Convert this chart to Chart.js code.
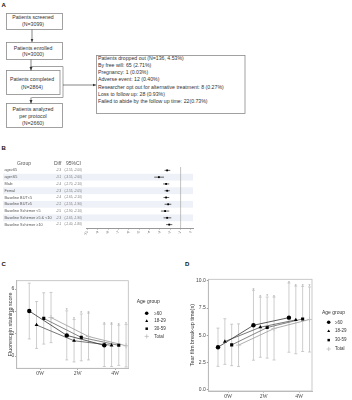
<!DOCTYPE html>
<html>
<head>
<meta charset="utf-8">
<script src="https://cdn.jsdelivr.net/npm/chart.js@4.4.1/dist/chart.umd.min.js"></script>
<style>
  body { margin: 0; background: #fff; }
  #page { position: relative; width: 352px; height: 400px; overflow: hidden; font-family: 'Liberation Sans', Arial, sans-serif; }
  canvas, svg { position: absolute; }
  .lab { position: absolute; font-weight: bold; font-size: 6px; line-height: 6px; color: #111; }
  #flow text { font-size: 5.2px; fill: #333; font-family: 'Liberation Sans', Arial, sans-serif; }
</style>
</head>
<body>
<div id="page">
  <div class="lab" style="left:1.5px;top:2px">A</div>
  <div class="lab" style="left:1.5px;top:145px">B</div>
  <div class="lab" style="left:1.5px;top:261px">C</div>
  <div class="lab" style="left:185px;top:261px">D</div>

  <svg id="flow" width="352" height="135" style="left:0;top:0">
    <defs>
      <marker id="ah" markerWidth="4" markerHeight="4" refX="3.5" refY="2" orient="auto" markerUnits="userSpaceOnUse">
        <path d="M0,0.5 L3.5,2 L0,3.5 z" fill="#333"/>
      </marker>
    </defs>
    <g fill="none" stroke="#8a8a8a" stroke-width="0.8">
      <rect x="6.5" y="13.5" width="56" height="16"/>
      <rect x="6.5" y="42.5" width="56" height="17"/>
      <rect x="6.5" y="70.5" width="53.5" height="24"/>
      <polyline points="30.5,66.5 63,66.5 63,97.5 31.5,97.5"/>
      <rect x="6.5" y="103.5" width="56" height="24"/>
      <rect x="96.5" y="55.5" width="148.5" height="58"/>
    </g>
    <g stroke="#333" stroke-width="0.6">
      <line x1="32" y1="29.5" x2="32" y2="42" marker-end="url(#ah)"/>
      <line x1="31" y1="59.5" x2="31" y2="70.5" marker-end="url(#ah)"/>
      <line x1="31" y1="97.5" x2="31" y2="103.5" marker-end="url(#ah)"/>
      <line x1="63" y1="85" x2="96" y2="85" marker-end="url(#ah)"/>
    </g>
    <g text-anchor="middle">
      <text x="33" y="18.5">Patients screened</text>
      <text x="33" y="26.1">(N=3099)</text>
      <text x="33" y="49.5">Patients enrolled</text>
      <text x="33" y="56.1">(N=3000)</text>
      <text x="32" y="81.1">Patients completed</text>
      <text x="32" y="88.5">(N=2864)</text>
      <text x="33" y="110.8">Patients analyzed</text>
      <text x="33" y="117.8">per protocol</text>
      <text x="33" y="125.1">(N=2660)</text>
    </g>
    <g>
      <text x="98" y="60.1">Patients dropped out (N=136, 4.53%)</text>
      <text x="98" y="67.1">By free will: 65 (2.71%)</text>
      <text x="98" y="74.1">Pregnancy: 1 (0.03%)</text>
      <text x="98" y="81.1">Adverse event: 12 (0.40%)</text>
      <text x="98" y="88.5">Researcher opt out for alternative treatment: 8 (0.27%)</text>
      <text x="98" y="95.8">Loss to follow up: 28 (0.93%)</text>
      <text x="98" y="102.8">Failed to abide by the follow up time: 22(0.73%)</text>
    </g>
  </svg>

  <canvas id="forest" width="200" height="100" style="left:0;top:140px"></canvas>
  <canvas id="fss" width="176" height="128" style="left:0;top:250px"></canvas>
  <canvas id="tbut" width="176" height="150" style="left:176px;top:250px"></canvas>
</div>

<script>
// ---- panel B: subgroup differences
const SUBGROUPS = ['age≥65', 'age<65', 'Male', 'Femal', 'Baseline BUT<5', 'Baseline BUT≥5',
  'Baseline Schirmer <5', 'Baseline Schirmer ≥5 & <10', 'Baseline Schirmer ≥10'];
const DIFF = [-2.3, -3.1, -2.4, -2.3, -2.4, -2.2, -2.5, -2.3, -2.1];
const CI_LOW = [-2.55, -3.55, -2.70, -2.55, -2.65, -2.55, -2.90, -2.65, -2.40];
const CI_HIGH = [-2.00, -2.60, -2.10, -2.05, -2.10, -1.90, -2.10, -1.90, -1.80];
const FOREST_TICKS = [-10, -9, -8, -7, -6, -5, -4, -3, -2, -1, 0];
const REF_LINE = -1;

// ---- panels C and D: by age group over time
const TIME_LABELS = ['0W', '2W', '4W'];
const AGE_GROUPS = ['≥60', '18-29', '30-59', 'Total'];
const STARRED = [false, true, true];

const FSS_60 = [4.03, 1.85, 0.96];
const FSS_18 = [2.78, 1.37, 0.96];
const FSS_30 = [3.37, 1.67, 0.96];
const FSS_TOTAL = [3.45, 1.75, 0.92];
const FSS_SD_60 = [2.5, 2.2, 1.9];
const FSS_SD_18 = [2.1, 1.9, 1.9];
const FSS_SD_30 = [2.3, 2.1, 1.8];
const FSS_SD_TOTAL = [2.25, 2.1, 1.9];
const FSS_TICKS = [0, 2, 4, 6];

const TBUT_60 = [3.91, 5.92, 6.62];
const TBUT_18 = [4.43, 5.74, 6.41];
const TBUT_30 = [4.12, 5.71, 6.50];
const TBUT_TOTAL = [4.10, 5.62, 6.45];
const TBUT_SD_60 = [1.75, 3.2, 3.17];
const TBUT_SD_18 = [2.09, 2.75, 3.1];
const TBUT_SD_30 = [1.9, 2.8, 2.98];
const TBUT_SD_TOTAL = [1.95, 2.88, 2.98];
const TBUT_TICKS = [0, 2.5, 5, 7.5, 10];

Chart.defaults.font.family = "'Liberation Sans', Arial, sans-serif";
Chart.defaults.color = '#444';

const forestTable = {
  id: 'forestTable',
  beforeDatasetsDraw(chart) {
    const {ctx, chartArea: a, scales: {x, y}} = chart;
    ctx.save();
    SUBGROUPS.forEach((g, i) => {
      if (i % 2 === 1) {
        const t = y.getPixelForValue(i - 0.5), b = y.getPixelForValue(i + 0.5);
        ctx.fillStyle = '#eef1f7';
        ctx.fillRect(3, t, a.right - 3, b - t);
      }
    });
    const rx = x.getPixelForValue(REF_LINE);
    ctx.strokeStyle = '#999';
    ctx.lineWidth = 0.6;
    ctx.beginPath();
    ctx.moveTo(rx, a.top);
    ctx.lineTo(rx, a.bottom);
    ctx.stroke();

    ctx.strokeStyle = '#000';
    ctx.lineWidth = 0.6;
    SUBGROUPS.forEach((g, i) => {
      const py = y.getPixelForValue(i);
      ctx.beginPath();
      ctx.moveTo(x.getPixelForValue(CI_LOW[i]), py);
      ctx.lineTo(x.getPixelForValue(CI_HIGH[i]), py);
      ctx.stroke();
    });

    ctx.textBaseline = 'middle';
    ctx.fillStyle = '#555';
    ctx.font = "5px 'Liberation Sans', Arial";
    ctx.textAlign = 'center';
    ctx.fillText('Group', 24, a.top - 3);
    ctx.textAlign = 'left';
    ctx.fillText('Diff', 54, a.top - 3);
    ctx.fillText('95%CI', 66, a.top - 3);
    SUBGROUPS.forEach((g, i) => {
      const py = y.getPixelForValue(i);
      ctx.fillStyle = '#555';
      ctx.font = "3.8px 'Liberation Sans', Arial";
      ctx.fillText(g, 4.5, py);
      ctx.font = "3px 'Liberation Sans', Arial";
      ctx.fillStyle = '#777';
      ctx.fillText(DIFF[i].toFixed(1), 56, py);
      ctx.fillText('(' + CI_LOW[i].toFixed(2) + ', ' + CI_HIGH[i].toFixed(2) + ')', 64.5, py);
    });
    ctx.restore();
  }
};

new Chart(document.getElementById('forest'), {
  type: 'scatter',
  data: {
    datasets: [{
      data: DIFF.map((d, i) => ({x: d, y: i})),
      pointStyle: 'rect',
      pointRadius: 1.3,
      backgroundColor: '#000',
      borderColor: '#000',
      borderWidth: 0
    }]
  },
  options: {
    responsive: false,
    animation: false,
    devicePixelRatio: 1,
    layout: {padding: {left: 86, right: 7, top: 27, bottom: 0}},
    plugins: {legend: {display: false}, tooltip: {enabled: false}},
    scales: {
      x: {
        type: 'linear', min: -10.15, max: 0.2,
        afterBuildTicks: s => { s.ticks = FOREST_TICKS.map(v => ({value: v})); },
        afterFit: s => { s.height = 12; },
        ticks: {font: {size: 3.5}, color: '#666', padding: 0.5},
        grid: {drawOnChartArea: false, tickLength: 1.5, color: '#999'},
        border: {color: '#999'}
      },
      y: {display: false, min: -0.5, max: 8.5, reverse: true}
    }
  },
  plugins: [forestTable]
});

// ---- shared helpers for C and D
const MARKERS = ['circle', 'triangle', 'rect', 'cross'];
const LINE_COLORS = ['#333', '#555', '#666', '#999'];
const DODGE = [-0.29, -0.096, 0.096, 0.29];

const errorBars = {
  id: 'errorBars',
  beforeDatasetsDraw(chart) {
    const {ctx, scales: {x, y}} = chart;
    ctx.save();
    ctx.strokeStyle = '#b8b8b8';
    ctx.lineWidth = 0.7;
    ctx.fillStyle = '#999';
    ctx.font = "5px 'Liberation Sans', Arial";
    ctx.textAlign = 'center';
    chart.data.datasets.forEach(ds => {
      ds.data.forEach((p, t) => {
        const px = x.getPixelForValue(p.x);
        const top = y.getPixelForValue(p.y + ds.sd[t]);
        const bot = y.getPixelForValue(p.y - ds.sd[t]);
        ctx.beginPath();
        ctx.moveTo(px, top); ctx.lineTo(px, bot);
        ctx.moveTo(px - 1.5, top); ctx.lineTo(px + 1.5, top);
        ctx.moveTo(px - 1.5, bot); ctx.lineTo(px + 1.5, bot);
        ctx.stroke();
        if (STARRED[t]) ctx.fillText('*', px, top + 1.5);
      });
    });
    ctx.restore();
  }
};

const panelBox = {
  id: 'panelBox',
  afterDraw(chart) {
    const {ctx, chartArea: a} = chart;
    ctx.save();
    ctx.strokeStyle = '#bbb';
    ctx.lineWidth = 0.8;
    ctx.strokeRect(a.left, a.top, a.right - a.left, a.bottom - a.top);
    ctx.restore();
  }
};

const groupLegend = {
  id: 'groupLegend',
  afterDraw(chart, args, o) {
    const {ctx, chartArea: a} = chart;
    ctx.save();
    ctx.textBaseline = 'middle';
    ctx.textAlign = 'left';
    ctx.fillStyle = '#333';
    ctx.font = "5px 'Liberation Sans', Arial";
    ctx.fillText('Age group', a.right + o.titleX, o.titleY);
    ctx.font = "4.5px 'Liberation Sans', Arial";
    chart.data.datasets.forEach((ds, k) => {
      const yy = o.itemY + k * o.step;
      ctx.fillStyle = ds.pointBackgroundColor;
      ctx.strokeStyle = ds.pointBorderColor;
      ctx.lineWidth = ds.pointBorderWidth;
      Chart.helpers.drawPoint(ctx, {pointStyle: ds.pointStyle, radius: ds.pointRadius * 0.8, rotation: 0, borderWidth: ds.pointBorderWidth}, a.right + o.markX, yy);
      ctx.fillStyle = '#333';
      ctx.fillText(ds.label, a.right + o.textX, yy);
    });
    ctx.restore();
  }
};

function timeChart(id, means, sds, o) {
  const datasets = AGE_GROUPS.map((g, k) => ({
    label: g,
    data: means[k].map((v, t) => ({x: t + DODGE[k], y: v})),
    sd: sds[k],
    showLine: true,
    borderColor: LINE_COLORS[k],
    borderWidth: 0.8,
    pointStyle: MARKERS[k],
    pointRadius: k === 3 ? 2.6 : 2.2,
    pointBackgroundColor: k === 3 ? '#bbb' : '#000',
    pointBorderColor: k === 3 ? '#bbb' : '#000',
    pointBorderWidth: k === 3 ? 0.8 : 0.01
  }));
  return new Chart(document.getElementById(id), {
    type: 'scatter',
    data: {datasets},
    options: {
      responsive: false,
      animation: false,
      devicePixelRatio: 1,
      layout: {padding: {left: 0, right: o.padRight, top: o.padTop, bottom: 0}},
      plugins: {legend: {display: false}, tooltip: {enabled: false}, groupLegend: o.legend},
      scales: {
        x: {
          type: 'linear', min: o.xMin, max: o.xMax,
          afterBuildTicks: s => { s.ticks = TIME_LABELS.map((_, i) => ({value: i})); },
          afterFit: s => { s.height = o.xh; },
          ticks: {callback: v => TIME_LABELS[v], font: {family: "'Liberation Serif', serif", size: 5.5}, color: '#444', padding: 0.5},
          grid: {drawOnChartArea: false, tickLength: 1.5, color: '#999'},
          border: {color: '#bbb'}
        },
        y: {
          min: o.yMin, max: o.yMax,
          afterBuildTicks: s => { s.ticks = o.yTicks.map(v => ({value: v})); },
          afterFit: s => { s.width = o.yw; },
          ticks: {callback: o.fmt, font: {size: 5}, color: '#444', padding: 1},
          grid: {drawOnChartArea: false, tickLength: 1.5, color: '#999'},
          border: {color: '#bbb'},
          title: {display: true, text: o.yTitle, font: {size: 5.5}, color: '#333', padding: {top: o.titlePad, bottom: 0}}
        }
      }
    },
    plugins: [errorBars, panelBox, groupLegend]
  });
}

timeChart('fss',
  [FSS_60, FSS_18, FSS_30, FSS_TOTAL],
  [FSS_SD_60, FSS_SD_18, FSS_SD_30, FSS_SD_TOTAL],
  {
    xMin: -0.625, xMax: 2.35, yMin: -1.1, yMax: 6.75, yTicks: FSS_TICKS, fmt: v => String(v),
    yTitle: 'Fluorescein staining score', titlePad: 6.7,
    padTop: 30.7, padRight: 47.7, xh: 9.7, yw: 16.7,
    legend: {titleX: 8.4, titleY: 51.7, markX: 18.4, textX: 26, itemY: 63.3, step: 7.7}
  });

timeChart('tbut',
  [TBUT_60, TBUT_18, TBUT_30, TBUT_TOTAL],
  [TBUT_SD_60, TBUT_SD_18, TBUT_SD_30, TBUT_SD_TOTAL],
  {
    xMin: -0.563, xMax: 2.36, yMin: -0.1, yMax: 10.13, yTicks: TBUT_TICKS, fmt: v => v.toFixed(1),
    yTitle: 'Tear film break-up time(s)', titlePad: 12.7,
    padTop: 29.3, padRight: 40, xh: 9, yw: 32.3,
    legend: {titleX: 10, titleY: 62.3, markX: 16.7, textX: 23, itemY: 72.3, step: 8.9}
  });
</script>
</body>
</html>
